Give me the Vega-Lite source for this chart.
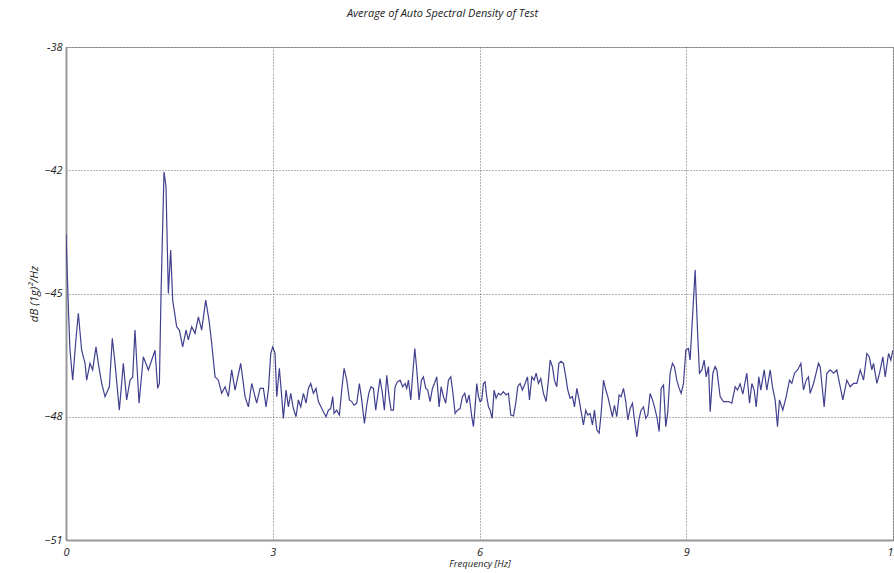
{
  "$schema": "https://vega.github.io/schema/vega-lite/v6.json",
  "width": 827,
  "height": 493,
  "autosize": {"type": "none"},
  "padding": {"left": 66, "top": 47, "right": 1, "bottom": 33},
  "background": "white",
  "title": {"text": "Average of Auto Spectral Density of Test", "fontSize": 11, "fontStyle": "italic", "font": "Open Sans", "fontWeight": "normal", "color": "#222", "offset": 22, "dx": -37},
  "config": {"view": {"stroke": "#aaa", "strokeWidth": 1}},
  "data": {"values": [
    {"f": 0.0, "db": -43.55}, {"f": 0.034, "db": -45.32}, {"f": 0.058, "db": -46.38}, {"f": 0.097, "db": -47.11}, {"f": 0.14, "db": -46.2}, {"f": 0.179, "db": -45.48}, {"f": 0.227, "db": -46.38}, {"f": 0.276, "db": -46.7}, {"f": 0.3, "db": -47.11}, {"f": 0.348, "db": -46.7}, {"f": 0.387, "db": -46.86}, {"f": 0.435, "db": -46.3}, {"f": 0.469, "db": -46.7}, {"f": 0.518, "db": -47.19}, {"f": 0.566, "db": -47.51}, {"f": 0.629, "db": -47.27}, {"f": 0.672, "db": -46.09}, {"f": 0.711, "db": -46.7}, {"f": 0.774, "db": -47.84}, {"f": 0.832, "db": -46.7}, {"f": 0.88, "db": -47.59}, {"f": 0.929, "db": -47.11}, {"f": 0.968, "db": -47.03}, {"f": 1.001, "db": -45.89}, {"f": 1.06, "db": -47.67}, {"f": 1.122, "db": -46.54}, {"f": 1.195, "db": -46.86}, {"f": 1.292, "db": -46.38}, {"f": 1.33, "db": -47.31}, {"f": 1.355, "db": -47.19}, {"f": 1.379, "db": -45.0}, {"f": 1.422, "db": -42.04}, {"f": 1.451, "db": -42.4}, {"f": 1.485, "db": -45.0}, {"f": 1.519, "db": -43.94}, {"f": 1.548, "db": -45.16}, {"f": 1.606, "db": -45.81}, {"f": 1.645, "db": -45.89}, {"f": 1.693, "db": -46.3}, {"f": 1.742, "db": -45.89}, {"f": 1.775, "db": -46.13}, {"f": 1.824, "db": -45.81}, {"f": 1.872, "db": -45.97}, {"f": 1.921, "db": -45.57}, {"f": 1.969, "db": -45.89}, {"f": 2.027, "db": -45.16}, {"f": 2.075, "db": -45.65}, {"f": 2.114, "db": -46.21}, {"f": 2.163, "db": -47.03}, {"f": 2.211, "db": -47.11}, {"f": 2.259, "db": -47.43}, {"f": 2.308, "db": -47.27}, {"f": 2.356, "db": -47.51}, {"f": 2.404, "db": -46.86}, {"f": 2.453, "db": -47.35}, {"f": 2.535, "db": -46.7}, {"f": 2.598, "db": -47.51}, {"f": 2.646, "db": -47.76}, {"f": 2.695, "db": -47.19}, {"f": 2.767, "db": -47.67},
    {"f": 2.816, "db": -47.31}, {"f": 2.864, "db": -47.31}, {"f": 2.903, "db": -47.76}, {"f": 2.937, "db": -47.35}, {"f": 2.971, "db": -46.46}, {"f": 3.0, "db": -46.3}, {"f": 3.033, "db": -46.46}, {"f": 3.058, "db": -47.51}, {"f": 3.096, "db": -46.82}, {"f": 3.13, "db": -47.51}, {"f": 3.154, "db": -48.04}, {"f": 3.193, "db": -47.35}, {"f": 3.227, "db": -47.76}, {"f": 3.261, "db": -47.43}, {"f": 3.299, "db": -47.8}, {"f": 3.338, "db": -48.0}, {"f": 3.372, "db": -47.59}, {"f": 3.406, "db": -47.76}, {"f": 3.445, "db": -47.43}, {"f": 3.483, "db": -47.67}, {"f": 3.517, "db": -47.31}, {"f": 3.551, "db": -47.19}, {"f": 3.59, "db": -47.43}, {"f": 3.628, "db": -47.31}, {"f": 3.662, "db": -47.63}, {"f": 3.701, "db": -47.76}, {"f": 3.735, "db": -47.88}, {"f": 3.774, "db": -48.0}, {"f": 3.807, "db": -47.84}, {"f": 3.841, "db": -47.8}, {"f": 3.87, "db": -47.51}, {"f": 3.89, "db": -47.92}, {"f": 3.928, "db": -47.84}, {"f": 3.967, "db": -47.96}, {"f": 4.001, "db": -47.35}, {"f": 4.035, "db": -46.82}, {"f": 4.074, "db": -47.11}, {"f": 4.112, "db": -47.59}, {"f": 4.146, "db": -47.63}, {"f": 4.18, "db": -47.72}, {"f": 4.219, "db": -47.67}, {"f": 4.257, "db": -47.19}, {"f": 4.291, "db": -47.59}, {"f": 4.33, "db": -48.16}, {"f": 4.364, "db": -47.72}, {"f": 4.393, "db": -47.43}, {"f": 4.427, "db": -47.27}, {"f": 4.461, "db": -47.31}, {"f": 4.494, "db": -47.84}, {"f": 4.533, "db": -47.35}, {"f": 4.557, "db": -47.07}, {"f": 4.591, "db": -47.43}, {"f": 4.62, "db": -47.84}, {"f": 4.654, "db": -46.99}, {"f": 4.688, "db": -47.51}, {"f": 4.717, "db": -47.84}, {"f": 4.751, "db": -47.84}, {"f": 4.775, "db": -47.27}, {"f": 4.809, "db": -47.15}, {"f": 4.848, "db": -47.11}, {"f": 4.886, "db": -47.27}, {"f": 4.92, "db": -47.19}, {"f": 4.944, "db": -47.31}, {"f": 4.969, "db": -47.11}, {"f": 5.003, "db": -47.59}, {"f": 5.032, "db": -46.94}, {"f": 5.061, "db": -46.34}, {"f": 5.09, "db": -46.86}, {"f": 5.123, "db": -47.59}, {"f": 5.157, "db": -47.11}, {"f": 5.186, "db": -47.03}, {"f": 5.22, "db": -47.31}, {"f": 5.249, "db": -47.35}, {"f": 5.283, "db": -47.63}, {"f": 5.317, "db": -47.31}, {"f": 5.346, "db": -47.19}, {"f": 5.38, "db": -47.03}, {"f": 5.414, "db": -47.76}, {"f": 5.443, "db": -47.27}, {"f": 5.477, "db": -47.51}, {"f": 5.51, "db": -47.67}, {"f": 5.549, "db": -47.11}, {"f": 5.583, "db": -47.03}, {"f": 5.612, "db": -47.39}, {"f": 5.646, "db": -47.92}, {"f": 5.68, "db": -47.84}, {"f": 5.718, "db": -47.8}, {"f": 5.752, "db": -47.51}, {"f": 5.786, "db": -47.43}, {"f": 5.815, "db": -47.67}, {"f": 5.849, "db": -47.47},
    {"f": 5.888, "db": -48.0}, {"f": 5.912, "db": -48.24}, {"f": 5.936, "db": -47.76}, {"f": 5.96, "db": -47.19}, {"f": 5.985, "db": -47.51}, {"f": 6.009, "db": -47.63}, {"f": 6.033, "db": -47.59}, {"f": 6.057, "db": -47.19}, {"f": 6.081, "db": -47.15}, {"f": 6.105, "db": -47.51}, {"f": 6.13, "db": -47.76}, {"f": 6.154, "db": -47.84}, {"f": 6.183, "db": -48.04}, {"f": 6.212, "db": -47.35}, {"f": 6.241, "db": -47.55}, {"f": 6.275, "db": -47.43}, {"f": 6.309, "db": -47.47}, {"f": 6.347, "db": -47.39}, {"f": 6.386, "db": -47.47}, {"f": 6.42, "db": -47.43}, {"f": 6.454, "db": -47.96}, {"f": 6.493, "db": -47.98}, {"f": 6.526, "db": -47.67}, {"f": 6.555, "db": -47.27}, {"f": 6.589, "db": -47.19}, {"f": 6.623, "db": -47.35}, {"f": 6.662, "db": -47.19}, {"f": 6.696, "db": -47.03}, {"f": 6.725, "db": -47.59}, {"f": 6.759, "db": -47.03}, {"f": 6.793, "db": -47.11}, {"f": 6.822, "db": -46.94}, {"f": 6.855, "db": -47.19}, {"f": 6.889, "db": -47.07}, {"f": 6.928, "db": -47.43}, {"f": 6.967, "db": -47.63}, {"f": 7.0, "db": -47.11}, {"f": 7.025, "db": -46.62}, {"f": 7.058, "db": -46.78}, {"f": 7.087, "db": -47.11}, {"f": 7.121, "db": -47.27}, {"f": 7.151, "db": -46.7}, {"f": 7.184, "db": -46.65}, {"f": 7.218, "db": -46.7}, {"f": 7.252, "db": -47.03}, {"f": 7.281, "db": -47.35}, {"f": 7.315, "db": -47.55}, {"f": 7.349, "db": -47.51}, {"f": 7.378, "db": -47.76}, {"f": 7.412, "db": -47.31}, {"f": 7.446, "db": -47.59}, {"f": 7.475, "db": -47.88}, {"f": 7.508, "db": -48.2}, {"f": 7.542, "db": -47.84}, {"f": 7.571, "db": -47.96}, {"f": 7.605, "db": -47.92}, {"f": 7.639, "db": -48.2}, {"f": 7.668, "db": -47.84}, {"f": 7.702, "db": -48.32}, {"f": 7.736, "db": -48.4}, {"f": 7.765, "db": -47.92}, {"f": 7.799, "db": -47.11}, {"f": 7.833, "db": -47.35}, {"f": 7.862, "db": -47.51}, {"f": 7.896, "db": -47.76}, {"f": 7.929, "db": -48.0}, {"f": 7.958, "db": -47.72}, {"f": 7.992, "db": -48.0}, {"f": 8.026, "db": -47.47}, {"f": 8.055, "db": -47.51}, {"f": 8.089, "db": -47.31}, {"f": 8.123, "db": -47.63}, {"f": 8.152, "db": -48.08}, {"f": 8.186, "db": -47.8}, {"f": 8.22, "db": -47.67}, {"f": 8.249, "db": -48.08}, {"f": 8.283, "db": -48.49}, {"f": 8.316, "db": -48.04}, {"f": 8.345, "db": -47.84}, {"f": 8.379, "db": -47.76}, {"f": 8.413, "db": -48.04}, {"f": 8.442, "db": -47.96}, {"f": 8.476, "db": -47.43}, {"f": 8.51, "db": -47.59}, {"f": 8.539, "db": -47.76}, {"f": 8.573, "db": -48.0}, {"f": 8.607, "db": -48.36}, {"f": 8.636, "db": -47.31}, {"f": 8.67, "db": -47.23}, {"f": 8.703, "db": -48.24}, {"f": 8.732, "db": -47.88}, {"f": 8.766, "db": -46.94}, {"f": 8.8, "db": -46.7}, {"f": 8.829, "db": -46.78}, {"f": 8.863, "db": -47.11}, {"f": 8.897, "db": -47.31}, {"f": 8.926, "db": -47.43}, {"f": 8.96, "db": -47.19}, {"f": 8.994, "db": -46.38}, {"f": 9.032, "db": -46.34},
    {"f": 9.056, "db": -46.62}, {"f": 9.129, "db": -44.43}, {"f": 9.163, "db": -45.89}, {"f": 9.192, "db": -46.94}, {"f": 9.226, "db": -46.86}, {"f": 9.26, "db": -46.62}, {"f": 9.289, "db": -47.03}, {"f": 9.323, "db": -46.78}, {"f": 9.347, "db": -47.88}, {"f": 9.386, "db": -46.94}, {"f": 9.419, "db": -46.78}, {"f": 9.444, "db": -46.86}, {"f": 9.492, "db": -47.51}, {"f": 9.54, "db": -47.63}, {"f": 9.613, "db": -47.63}, {"f": 9.661, "db": -47.67}, {"f": 9.71, "db": -47.27}, {"f": 9.744, "db": -47.35}, {"f": 9.782, "db": -47.2}, {"f": 9.821, "db": -47.45}, {"f": 9.879, "db": -46.94}, {"f": 9.918, "db": -47.67}, {"f": 9.952, "db": -47.19}, {"f": 9.985, "db": -47.35}, {"f": 10.015, "db": -47.76}, {"f": 10.053, "db": -47.03}, {"f": 10.082, "db": -47.35}, {"f": 10.131, "db": -46.86}, {"f": 10.169, "db": -47.35}, {"f": 10.218, "db": -46.86}, {"f": 10.251, "db": -47.27}, {"f": 10.29, "db": -47.59}, {"f": 10.324, "db": -48.24}, {"f": 10.353, "db": -47.59}, {"f": 10.401, "db": -47.84}, {"f": 10.45, "db": -47.51}, {"f": 10.498, "db": -47.11}, {"f": 10.532, "db": -47.19}, {"f": 10.571, "db": -46.94}, {"f": 10.62, "db": -46.85}, {"f": 10.663, "db": -46.7}, {"f": 10.701, "db": -47.35}, {"f": 10.74, "db": -47.11}, {"f": 10.774, "db": -47.03}, {"f": 10.798, "db": -47.43}, {"f": 10.847, "db": -47.19}, {"f": 10.919, "db": -46.7}, {"f": 10.943, "db": -46.78}, {"f": 11.001, "db": -47.76}, {"f": 11.04, "db": -46.94}, {"f": 11.089, "db": -46.86}, {"f": 11.137, "db": -46.94}, {"f": 11.185, "db": -46.86}, {"f": 11.272, "db": -47.59}, {"f": 11.33, "db": -47.11}, {"f": 11.379, "db": -47.27}, {"f": 11.427, "db": -47.19}, {"f": 11.476, "db": -47.19}, {"f": 11.524, "db": -46.86}, {"f": 11.572, "db": -47.11}, {"f": 11.621, "db": -46.46}, {"f": 11.655, "db": -46.54}, {"f": 11.693, "db": -46.86}, {"f": 11.717, "db": -46.7}, {"f": 11.766, "db": -47.19}, {"f": 11.805, "db": -46.94}, {"f": 11.853, "db": -46.54}, {"f": 11.887, "db": -47.03}, {"f": 11.935, "db": -46.46}, {"f": 11.969, "db": -46.62}, {"f": 11.998, "db": -46.38}
  ]},
  "mark": {"type": "line", "color": "#40408f", "strokeWidth": 1.2, "clip": true},
  "encoding": {
    "x": {
      "field": "f", "type": "quantitative",
      "scale": {"domain": [0, 12], "nice": false, "zero": false},
      "axis": {
        "values": [0, 3, 6, 9, 12], "title": "Frequency [Hz]",
        "titleFont": "Open Sans", "titleFontStyle": "italic", "titleFontWeight": "normal", "titleFontSize": 9.5, "titleColor": "#222", "titlePadding": 1,
        "labelFont": "Open Sans", "labelFontStyle": "italic", "labelFontSize": 11, "labelColor": "#222", "labelPadding": 6, "labelFlush": false,
        "ticks": false, "domainColor": "#999", "domainWidth": 2,
        "grid": true, "gridColor": "#666", "gridDash": [1, 2], "gridWidth": 1
      }
    },
    "y": {
      "field": "db", "type": "quantitative",
      "scale": {"domain": [-51, -39], "nice": false, "zero": false},
      "axis": {
        "values": [-51, -48, -45, -42, -39], "title": "dB (1g)²/Hz",
        "labelExpr": "datum.value == -39 ? '-38' : datum.label",
        "titleFont": "Open Sans", "titleFontStyle": "italic", "titleFontWeight": "normal", "titleFontSize": 11.5, "titleColor": "#222", "titlePadding": 4,
        "labelFont": "Open Sans", "labelFontStyle": "italic", "labelFontSize": 11, "labelColor": "#222", "labelPadding": 4, "labelFlush": false,
        "ticks": false, "domainColor": "#999", "domainWidth": 2,
        "grid": true, "gridColor": "#666", "gridDash": [1, 2], "gridWidth": 1
      }
    }
  }
}
